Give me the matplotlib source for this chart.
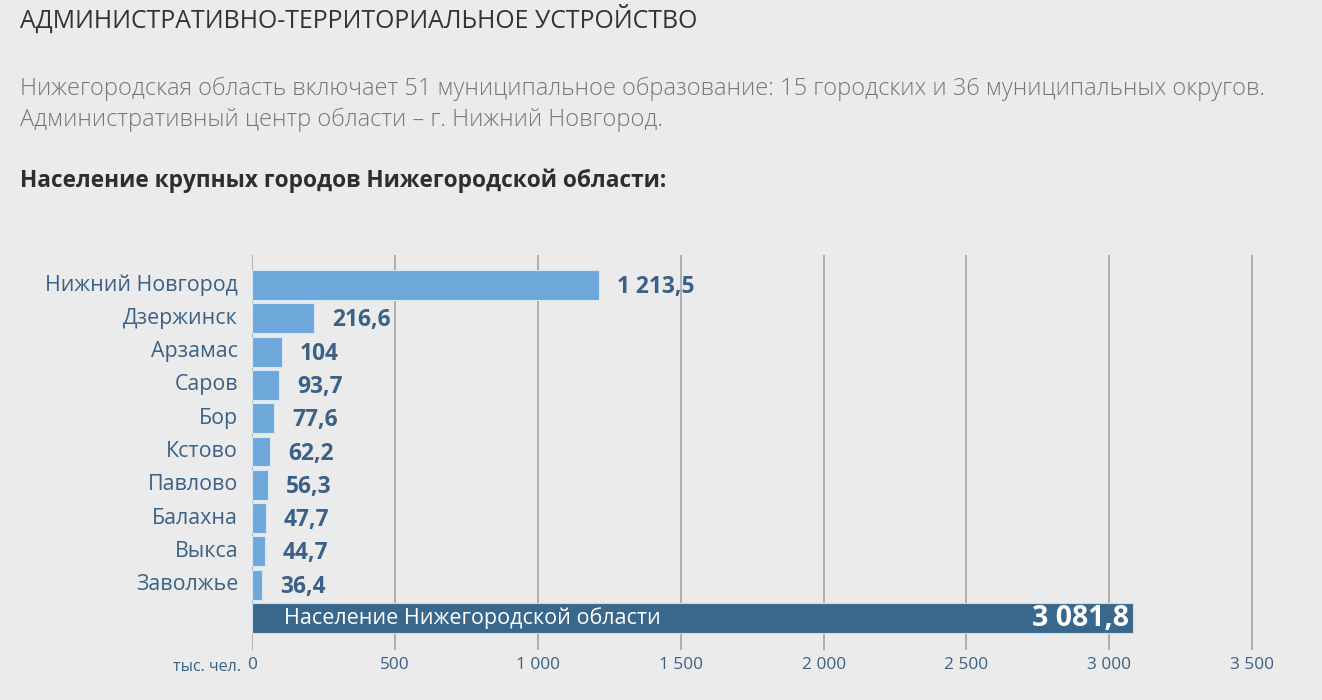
import matplotlib
matplotlib.use("Agg")
import matplotlib.pyplot as plt
from matplotlib.ticker import FixedLocator

cities = ["Нижний Новгород", "Дзержинск", "Арзамас", "Саров", "Бор", "Кстово",
          "Павлово", "Балахна", "Выкса", "Заволжье"]
population = [1213.5, 216.6, 104, 93.7, 77.6, 62.2, 56.3, 47.7, 44.7, 36.4]
value_labels = ["1 213,5", "216,6", "104", "93,7", "77,6", "62,2", "56,3", "47,7", "44,7", "36,4"]
total_label = "Население Нижегородской области"
total_value = 3081.8
total_value_label = "3 081,8"
xticks = [0, 500, 1000, 1500, 2000, 2500, 3000, 3500]
xtick_labels = ["0", "500", "1 000", "1 500", "2 000", "2 500", "3 000", "3 500"]

BG = "#ebebeb"
LIGHT = "#6ea8da"
DARK = "#3a688d"
TXT = "#3b6187"
FONT = ["Open Sans", "DejaVu Sans"]
plt.rcParams["font.family"] = FONT

W, H = 1322, 700
fig = plt.figure(figsize=(W / 100, H / 100), dpi=100, facecolor=BG)

# header texts
fig.text(20 / W, 1 - 19 / H, "АДМИНИСТРАТИВНО-ТЕРРИТОРИАЛЬНОЕ УСТРОЙСТВО",
         fontsize=17.9, color="#333333", va="center", ha="left")
fig.text(20 / W, 1 - 89 / H,
         "Нижегородская область включает 51 муниципальное образование: 15 городских и 36 муниципальных округов.",
         fontsize=17, color="#767676", va="center", ha="left", fontweight="light")
fig.text(20 / W, 1 - 120 / H, "Административный центр области – г. Нижний Новгород.",
         fontsize=17, color="#767676", va="center", ha="left", fontweight="light")
fig.text(20 / W, 1 - 181 / H, "Население крупных городов Нижегородской области:",
         fontsize=16.3, color="#2e2e2e", va="center", ha="left", fontweight="bold")

# axes: x 0 at px 252, 3600 at px ~1280.6
left_px, right_px = 252, 252 + 3600 * (142.9 / 500)
top_px, bottom_px = 255, 650
ax = fig.add_axes([left_px / W, 1 - bottom_px / H, (right_px - left_px) / W, (bottom_px - top_px) / H])
ax.set_facecolor(BG)
ax.set_xlim(0, 3600)
ax.set_ylim(10.96, -0.9)

ax.xaxis.set_major_locator(FixedLocator(xticks))
ax.grid(axis="x", color="#afafaf", linewidth=1.4, zorder=0)
ax.set_axisbelow(True)
for s in ax.spines.values():
    s.set_visible(False)
ax.set_xticks(xticks)
ax.set_xticklabels(xtick_labels, color=TXT, fontsize=12.4)
ax.tick_params(axis="x", length=0, pad=5)
ax.set_yticks([])

ypos = list(range(len(cities)))
ax.barh(ypos, population, height=0.9, color=LIGHT, edgecolor="#d6e6f4", linewidth=0.8, zorder=2)
for y, v, lab, c in zip(ypos, population, value_labels, cities):
    ax.annotate(lab, (v, y), xytext=(13, -1.5), textcoords="offset points",
                ha="left", va="center", fontsize=16.4, fontweight="bold", color=TXT)
    ax.annotate(c, (0, y), xytext=(-10, 0), textcoords="offset points",
                ha="right", va="center", fontsize=15.4, color=TXT, annotation_clip=False)

ty = len(cities)
ax.barh([ty], [total_value], height=0.9, color=DARK, edgecolor="#cfdce8", linewidth=0.8, zorder=2)
ax.annotate(total_label, (0, ty), xytext=(23, 0), textcoords="offset points",
            ha="left", va="center", fontsize=15.5, color="white")
ax.annotate(total_value_label, (total_value, ty), xytext=(-3, -0.5), textcoords="offset points",
            ha="right", va="center", fontsize=20.5, fontweight="bold", color="white")

ax.annotate("тыс. чел.", (0, 0), xycoords=("data", "axes fraction"), xytext=(-8, -12),
            textcoords="offset points", ha="right", va="center", fontsize=11.5, color=TXT,
            annotation_clip=False)

fig.savefig("out.png", dpi=100, facecolor=BG)
